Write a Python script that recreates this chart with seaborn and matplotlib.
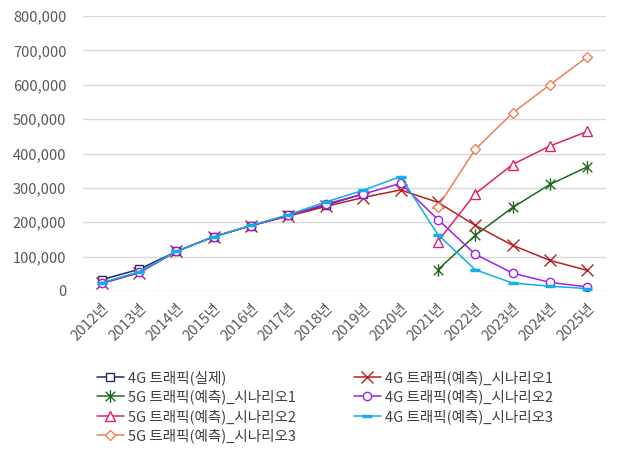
import matplotlib
matplotlib.use('Agg')
import matplotlib.pyplot as plt
import seaborn as sns
import numpy as np
import pandas as pd
from matplotlib.path import Path
from matplotlib.ticker import FuncFormatter

## ---------------------------------- datos ----------------------------------
years = [f'{y}년' for y in range(2012, 2026)]

lte_actual = [33000, 63000, 115000, 158000, 190000, 220000, 250000, 282000,
              None, None, None, None, None, None]
lte_s1 = [22000, 53000, 115000, 158000, 190000, 218000, 246000, 272000,
          294000, 258000, 191000, 133000, 89000, 60000]
nr_s1 = [None] * 9 + [62000, 162000, 243000, 310000, 361000]
lte_s2 = [22000, 54000, 115000, 158000, 190000, 220000, 253000, 282000,
          313000, 208000, 107000, 52000, 25000, 12000]
nr_s2 = [None] * 9 + [144000, 283000, 368000, 422000, 464000]
lte_s3 = [24000, 56000, 115000, 158000, 191000, 222000, 259000, 293000,
          333000, 164000, 62000, 23000, 14000, 7000]
nr_s3 = [None] * 9 + [245000, 412000, 518000, 600000, 681000]

labels = ['4G 트래픽(실제)', '4G 트래픽(예측)_시나리오1', '5G 트래픽(예측)_시나리오1',
          '4G 트래픽(예측)_시나리오2', '5G 트래픽(예측)_시나리오2',
          '4G 트래픽(예측)_시나리오3', '5G 트래픽(예측)_시나리오3']
series = [lte_actual, lte_s1, nr_s1, lte_s2, nr_s2, lte_s3, nr_s3]

## marcador asterisco estilo Excel (X + linea vertical)
star = Path([(-1, -1), (1, 1), (-1, 1), (1, -1), (0, -1.3), (0, 1.3)],
            [Path.MOVETO, Path.LINETO, Path.MOVETO, Path.LINETO, Path.MOVETO, Path.LINETO])

styles = [
    dict(color='#1F2A6B', marker='s', ms=6),
    dict(color='#B22222', marker='x', ms=8),
    dict(color='#1E6B1E', marker=star, ms=9),
    dict(color='#A020F0', marker='o', ms=6),
    dict(color='#E0206A', marker='^', ms=7),
    dict(color='#12AEE8', marker='_', ms=7),
    dict(color='#F08058', marker='D', ms=5),
]

## ---------------------------------- grafico ----------------------------------
sns.set_theme(style='white')
plt.rcParams['font.family'] = ['Noto Sans CJK KR', 'DejaVu Sans']

fig = plt.figure(figsize=(6.28, 4.51), dpi=100)
ax = fig.add_axes([83 / 628, 1 - 291 / 451, (606 - 83) / 628, (291 - 16) / 451])

handles = []
for lab, vals, st in zip(labels, series, styles):
    df = pd.DataFrame({'year': years, 'val': vals}).dropna()
    df['pos'] = [years.index(y) for y in df['year']]
    mew = 2.5 if st['marker'] == '_' else 1.0
    sns.lineplot(data=df, x='pos', y='val', ax=ax, color=st['color'], lw=1.1,
                 marker=st['marker'], markersize=st['ms'], markerfacecolor='white',
                 markeredgecolor=st['color'], markeredgewidth=mew, legend=False)
    handles.append(ax.lines[-1])

ax.set_xlim(-0.5, len(years) - 0.5)
ax.set_ylim(0, 800000)
ax.set_yticks(np.arange(0, 800001, 100000))
ax.yaxis.set_major_formatter(FuncFormatter(lambda v, p: f'{int(v):,}'))
ax.set_xticks(range(len(years)))
ax.set_xticklabels(years, rotation=45, ha='right', rotation_mode='anchor')
ax.tick_params(axis='both', colors='#595959', labelsize=10.5, length=0)
ax.tick_params(axis='y', pad=12)
ax.tick_params(axis='x', pad=7)
ax.set_xlabel('')
ax.set_ylabel('')
ax.grid(axis='y', color='#D9D9D9', lw=1)
ax.grid(axis='x', visible=False)
for s in ax.spines.values():
    s.set_visible(False)

## orden por filas: columna 1 / columna 2
order = [0, 2, 4, 6, 1, 3, 5]
leg = ax.legend([handles[i] for i in order], [labels[i] for i in order],
                ncol=2, loc='upper left', bbox_to_anchor=(90 / 628, 1 - 363 / 451),
                bbox_transform=fig.transFigure, frameon=False, fontsize=10.5,
                handlelength=1.8, handletextpad=0.3, columnspacing=4.0,
                labelspacing=0.32, borderpad=0)
for t in leg.get_texts():
    t.set_color('#404040')

plt.savefig('out.png', dpi=100)
